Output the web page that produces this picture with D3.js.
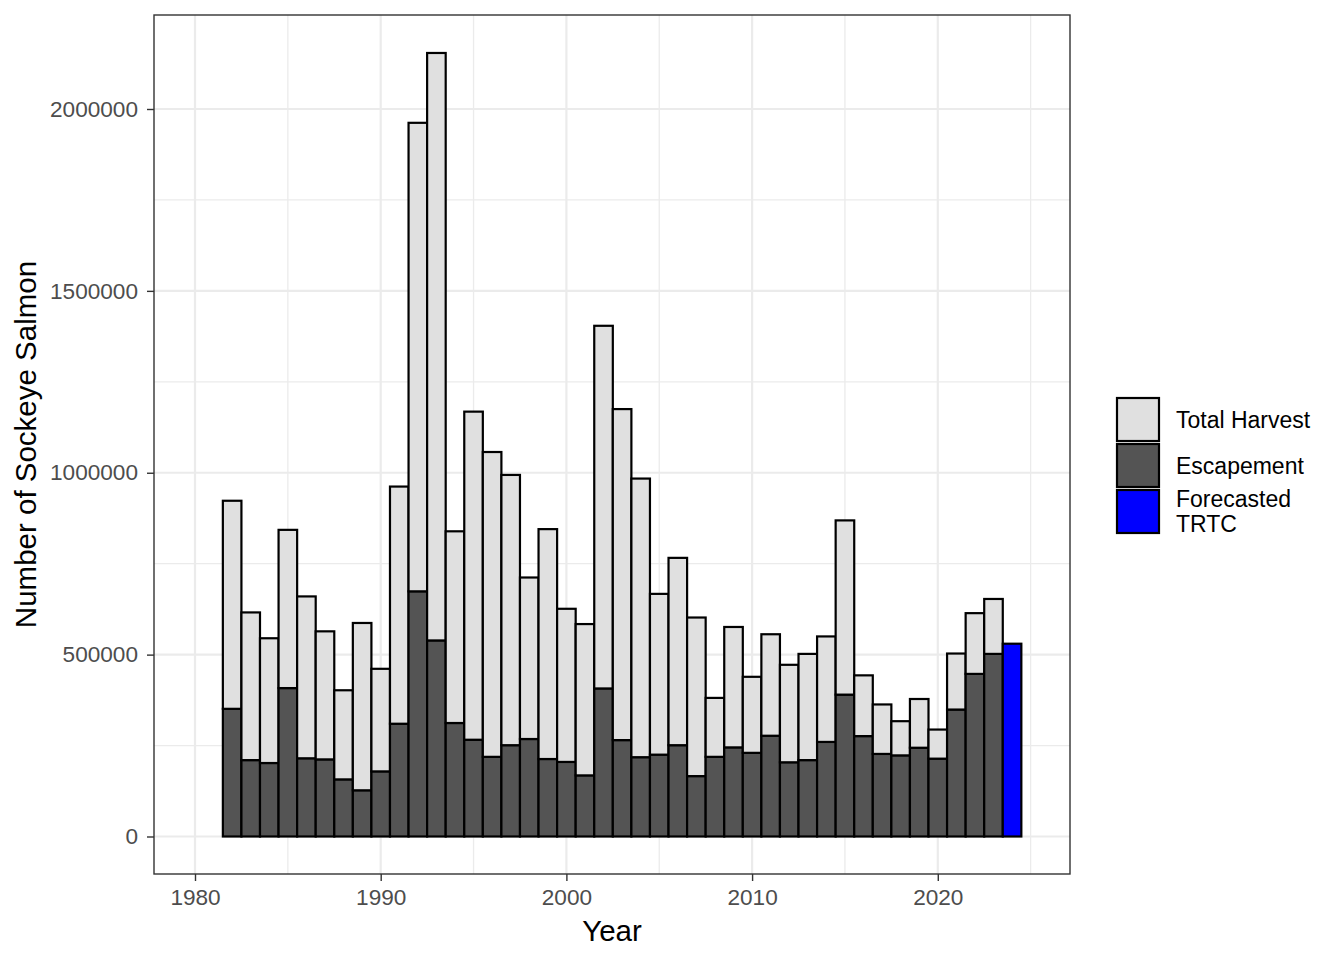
<!DOCTYPE html>
<html>
<head>
<meta charset="utf-8">
<script src="https://cdn.jsdelivr.net/npm/d3@7"></script>
<style>
  html, body { margin: 0; padding: 0; background: #fff; }
  svg { display: block; font-family: "Liberation Sans", Arial, Helvetica, sans-serif; }
</style>
</head>
<body>
<svg id="chart" width="1344" height="960"></svg>
<script>
// ---- Data ----
const years = [1982,1983,1984,1985,1986,1987,1988,1989,1990,1991,1992,1993,1994,1995,1996,1997,1998,1999,2000,2001,2002,2003,2004,2005,2006,2007,2008,2009,2010,2011,2012,2013,2014,2015,2016,2017,2018,2019,2020,2021,2022,2023];
const escapement = [351000,210000,202000,408000,215000,212000,157000,127000,179000,310000,674000,539000,312000,266000,219000,251000,268000,213000,205000,168000,407000,265000,218000,225000,251000,166000,219000,245000,230000,277000,204000,210000,260000,390000,276000,227000,223000,244000,214000,349000,447000,502000];
const totalRun = [923000,616000,545000,843000,660000,564000,402000,587000,461000,962000,1962000,2154000,839000,1168000,1057000,994000,712000,845000,626000,584000,1404000,1175000,984000,667000,766000,602000,381000,576000,439000,556000,472000,502000,550000,869000,443000,363000,317000,378000,294000,503000,614000,653000];
const totalHarvest = totalRun.map((t, i) => t - escapement[i]);
const forecastYear = [2024];
const forecastTRTC = [530000];
const xTicks = [1980, 1990, 2000, 2010, 2020];
const yTicks = [0, 500000, 1000000, 1500000, 2000000];
const legendLabels = [["Total Harvest"], ["Escapement"], ["Forecasted", "TRTC"]];
const legendColors = ["#E0E0E0", "#545454", "#0000FF"];

// ---- Layout ----
const svg = d3.select("#chart");
const panel = { left: 154, right: 1070, top: 15, bottom: 874 };

const x = d3.scaleLinear().domain([1977.792, 2027.12]).range([panel.left, panel.right]);
const y = d3.scaleLinear().domain([-103100, 2258400]).range([panel.bottom, panel.top]);

svg.append("rect").attr("x", panel.left).attr("y", panel.top)
  .attr("width", panel.right - panel.left).attr("height", panel.bottom - panel.top)
  .attr("fill", "#fff");

// grid: minor
const xMinor = [1975, 1985, 1995, 2005, 2015, 2025].filter(v => x(v) > panel.left && x(v) < panel.right);
const yMinor = [250000, 750000, 1250000, 1750000];
const grid = svg.append("g");
grid.selectAll(".xmin").data(xMinor).enter().append("line")
  .attr("x1", d => x(d)).attr("x2", d => x(d)).attr("y1", panel.top).attr("y2", panel.bottom)
  .attr("stroke", "#EBEBEB").attr("stroke-width", 1.3);
grid.selectAll(".ymin").data(yMinor).enter().append("line")
  .attr("y1", d => y(d)).attr("y2", d => y(d)).attr("x1", panel.left).attr("x2", panel.right)
  .attr("stroke", "#EBEBEB").attr("stroke-width", 1.3);
// grid: major
grid.selectAll(".xmaj").data(xTicks).enter().append("line")
  .attr("x1", d => x(d)).attr("x2", d => x(d)).attr("y1", panel.top).attr("y2", panel.bottom)
  .attr("stroke", "#EBEBEB").attr("stroke-width", 2.2);
grid.selectAll(".ymaj").data(yTicks).enter().append("line")
  .attr("y1", d => y(d)).attr("y2", d => y(d)).attr("x1", panel.left).attr("x2", panel.right)
  .attr("stroke", "#EBEBEB").attr("stroke-width", 2.2);

// ---- Bars ----
const bars = svg.append("g");
const bw = x(1.5) - x(0.5);
years.forEach((yr, i) => {
  const x0 = x(yr - 0.5);
  bars.append("rect")
    .attr("x", x0).attr("width", bw)
    .attr("y", y(escapement[i])).attr("height", y(0) - y(escapement[i]))
    .attr("fill", legendColors[1]).attr("stroke", "#000").attr("stroke-width", 2.2);
  const top = escapement[i] + totalHarvest[i];
  bars.append("rect")
    .attr("x", x0).attr("width", bw)
    .attr("y", y(top)).attr("height", y(escapement[i]) - y(top))
    .attr("fill", legendColors[0]).attr("stroke", "#000").attr("stroke-width", 2.2);
});
forecastYear.forEach((yr, i) => {
  bars.append("rect")
    .attr("x", x(yr - 0.5)).attr("width", bw)
    .attr("y", y(forecastTRTC[i])).attr("height", y(0) - y(forecastTRTC[i]))
    .attr("fill", legendColors[2]).attr("stroke", "#000").attr("stroke-width", 2.2);
});

// panel border
svg.append("rect").attr("x", panel.left).attr("y", panel.top)
  .attr("width", panel.right - panel.left).attr("height", panel.bottom - panel.top)
  .attr("fill", "none").attr("stroke", "#333333").attr("stroke-width", 1.4);

// ---- Axes ----
const xAxis = d3.axisBottom(x).tickValues(xTicks).tickFormat(d3.format("d")).tickSize(7).tickPadding(8);
const gx = svg.append("g").attr("transform", `translate(0,${panel.bottom})`).call(xAxis);
gx.select(".domain").remove();
gx.selectAll(".tick line").attr("stroke", "#333333").attr("stroke-width", 1.4);
gx.selectAll(".tick text").attr("fill", "#4D4D4D").style("font-size", "22.6px")
  .attr("font-family", "Liberation Sans, Arial, sans-serif");

const yAxis = d3.axisLeft(y).tickValues(yTicks).tickFormat(d3.format("d")).tickSize(7).tickPadding(9);
const gy = svg.append("g").attr("transform", `translate(${panel.left},0)`).call(yAxis);
gy.select(".domain").remove();
gy.selectAll(".tick line").attr("stroke", "#333333").attr("stroke-width", 1.4);
gy.selectAll(".tick text").attr("fill", "#4D4D4D").style("font-size", "22.6px")
  .attr("font-family", "Liberation Sans, Arial, sans-serif");

// axis titles
svg.append("text").attr("x", (panel.left + panel.right) / 2).attr("y", 941)
  .attr("text-anchor", "middle").style("font-size", "29.5px").attr("fill", "#000").text("Year");
svg.append("text").attr("transform", `translate(36,${(panel.top + panel.bottom) / 2}) rotate(-90)`)
  .attr("text-anchor", "middle").style("font-size", "29.5px").attr("fill", "#000").text("Number of Sockeye Salmon");

// ---- Legend ----
const leg = svg.append("g");
const keyTop = [398, 444, 490];
legendLabels.forEach((lines, i) => {
  leg.append("rect").attr("x", 1117).attr("y", keyTop[i]).attr("width", 42).attr("height", 43)
    .attr("fill", legendColors[i]).attr("stroke", "#000").attr("stroke-width", 2.2);
  const cy = keyTop[i] + 21.5;
  const lh = 24.4;
  lines.forEach((ln, j) => {
    const off = (j - (lines.length - 1) / 2) * lh;
    leg.append("text").attr("x", 1176).attr("y", cy + off + 8)
      .style("font-size", "23px").attr("fill", "#000").text(ln);
  });
});
</script>
</body>
</html>
